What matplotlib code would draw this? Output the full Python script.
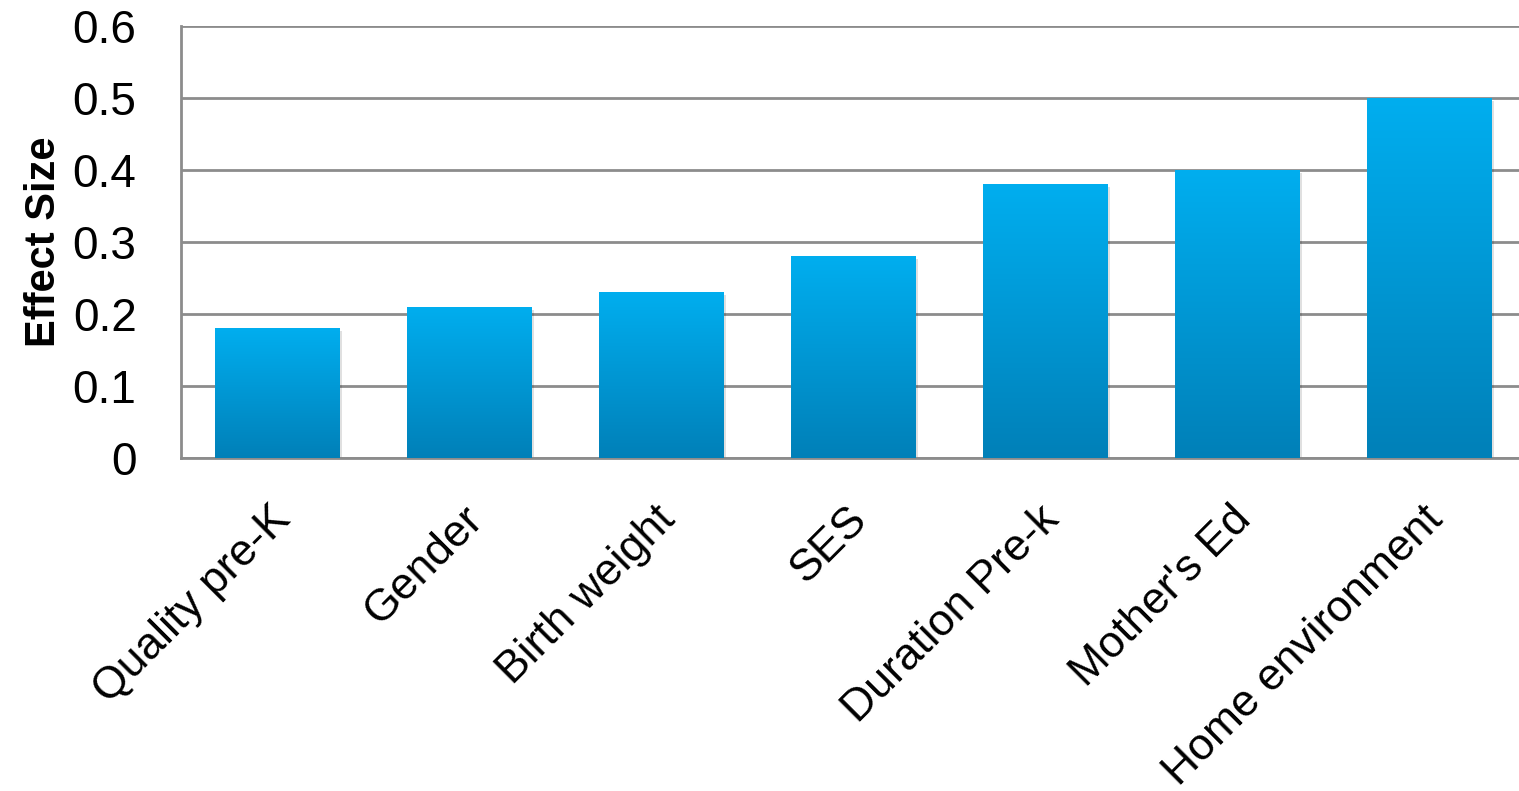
import matplotlib.pyplot as plt
import numpy as np
from matplotlib.colors import LinearSegmentedColormap
from matplotlib.transforms import ScaledTranslation

categories = ['Quality pre-K', 'Gender', 'Birth weight', 'SES',
              'Duration Pre-k', "Mother's Ed", 'Home environment']
effect_sizes = [0.18, 0.21, 0.23, 0.28, 0.38, 0.40, 0.50]
y_ticks = [0, 0.1, 0.2, 0.3, 0.4, 0.5, 0.6]
y_tick_labels = ['0', '0.1', '0.2', '0.3', '0.4', '0.5', '0.6']

plt.rcParams['font.family'] = ['Liberation Sans', 'DejaVu Sans']

fig = plt.figure(figsize=(15.19, 7.91), dpi=100)
# plot area runs a few pixels past the right edge of the figure
ax = fig.add_axes([0.1192, 0.421, 0.8848, 0.546])

x = np.arange(len(categories))
bar_width = 0.65

# vertical blue gradient: dark at bottom, bright at top
grad_cmap = LinearSegmentedColormap.from_list('bar_grad', ['#0080B8', '#00AEEF'])
gradient = np.linspace(0, 1, 256).reshape(-1, 1)

for xi, val in zip(x, effect_sizes):
    # soft drop shadow
    shadow = plt.Rectangle((xi - bar_width / 2 + 0.012, -0.004), bar_width, val,
                           facecolor='#000000', alpha=0.12, edgecolor='none', zorder=2)
    ax.add_patch(shadow)
    bar = ax.bar(xi, val, width=bar_width, color='none', edgecolor='none', zorder=3)[0]
    img = ax.imshow(gradient, cmap=grad_cmap, origin='lower', aspect='auto',
                    extent=[xi - bar_width / 2, xi + bar_width / 2, 0, val], zorder=3)
    img.set_clip_path(bar)

ax.set_xlim(-0.5, len(categories) - 0.5)
ax.set_ylim(0, 0.6)
ax.set_yticks(y_ticks)
ax.set_yticklabels(y_tick_labels, fontsize=33)
ax.set_xticks(x)
ax.set_xticklabels(categories, fontsize=32, rotation=45, ha='right',
                   rotation_mode='anchor')
ax.tick_params(axis='both', length=0)
ax.tick_params(axis='y', pad=32)
ax.tick_params(axis='x', pad=29)

# nudge the rotated category labels a little to the left
offset = ScaledTranslation(-7 / 100, 0, fig.dpi_scale_trans)
for lbl in ax.get_xticklabels():
    lbl.set_transform(lbl.get_transform() + offset)

ax.set_ylabel('Effect Size', fontsize=30, fontweight='bold', labelpad=6)

ax.grid(axis='y', color='#8c8c8c', linewidth=2, zorder=1)
ax.set_axisbelow(True)
for side in ['top', 'right']:
    ax.spines[side].set_visible(False)
ax.spines['left'].set_color('#8c8c8c')
ax.spines['left'].set_linewidth(2)
ax.spines['bottom'].set_color('#8c8c8c')
ax.spines['bottom'].set_linewidth(2)

fig.savefig('out.png', dpi=100)
